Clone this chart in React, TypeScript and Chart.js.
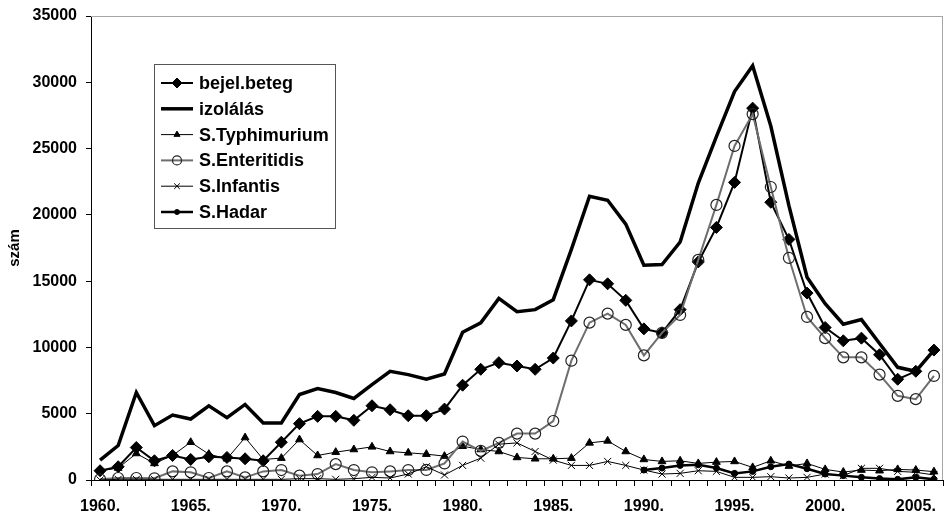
import { useEffect, useRef } from 'react';
import { Chart, registerables } from 'chart.js';
import { drawPoint } from 'chart.js/helpers';

Chart.register(...registerables);

const years = [
  1960, 1961, 1962, 1963, 1964, 1965, 1966, 1967, 1968, 1969,
  1970, 1971, 1972, 1973, 1974, 1975, 1976, 1977, 1978, 1979,
  1980, 1981, 1982, 1983, 1984, 1985, 1986, 1987, 1988, 1989,
  1990, 1991, 1992, 1993, 1994, 1995, 1996, 1997, 1998, 1999,
  2000, 2001, 2002, 2003, 2004, 2005, 2006,
];

const bejelBeteg = [
  700, 1000, 2450, 1450, 1850, 1550, 1750, 1700, 1600, 1450,
  2850, 4250, 4800, 4800, 4500, 5600, 5300, 4850, 4850, 5350,
  7150, 8350, 8850, 8600, 8350, 9200, 12000, 15100, 14800, 13550,
  11400, 11100, 12850, 16450, 19050, 22450, 28050, 20950, 18150, 14100,
  11500, 10500, 10700, 9450, 7600, 8200, 9800,
];

const izolalas = [
  1500, 2600, 6600, 4100, 4900, 4600, 5600, 4700, 5700, 4300,
  4300, 6450, 6900, 6600, 6150, 7200, 8200, 7950, 7600, 8000,
  11150, 11850, 13700, 12700, 12850, 13600, 17400, 21400, 21100, 19300,
  16200, 16250, 17950, 22400, 25900, 29300, 31250, 26700, 20700, 15300,
  13300, 11750, 12100, 10300, 8500, 8200, 9800,
];

const typhimurium = [
  700, 900, 2000, 1250, 1850, 2850, 1950, 1600, 3200, 1550,
  1650, 3050, 1850, 2100, 2300, 2500, 2150, 2050, 1950, 1800,
  2550, 2300, 2150, 1700, 1600, 1600, 1650, 2800, 2950, 2150,
  1550, 1400, 1450, 1250, 1350, 1400, 950, 1450, 1050, 1250,
  800, 600, 750, 700, 800, 750, 630,
];

const enteritidis = [
  50, 150, 150, 130, 650, 580, 150, 650, 200, 650,
  750, 330, 450, 1200, 750, 580, 650, 750, 760, 1250,
  2900, 2200, 2800, 3500, 3500, 4450, 9000, 11870, 12550, 11700,
  9400, 11100, 12450, 16600, 20750, 25200, 27600, 22100, 16750, 12300,
  10700, 9250, 9250, 7950, 6350, 6100, 7850,
];

const infantis = [
  0, 50, 50, 50, 50, 50, 50, 50, 50, 50,
  50, 100, 100, 50, 100, 200, 150, 450, 1000, 380,
  1100, 1650, 2700, 2800, 2150, 1500, 1100, 1100, 1400, 1100,
  750, 450, 500, 700, 650, 200, 200, 250, 150, 200,
  450, 330, 880, 880, 650, 580, 380,
];

const hadar = [
  null, null, null, null, null, null, null, null, null, null,
  null, null, null, null, null, null, null, null, null, null,
  null, null, null, null, null, null, null, null, null, null,
  750, 900, 1100, 1150, 900, 500, 650, 1000, 1200, 850,
  450, 330, 200, 110, 50, 200, 50,
];

const yTicks = [0, 5000, 10000, 15000, 20000, 25000, 30000, 35000];

const FONT = "'Liberation Sans', Arial, Helvetica, sans-serif";

const legendRadius = [5, 0, 3.5, 4.5, 4, 2.5];

const chartDecor = {
  id: 'chartDecor',
  beforeDatasetsDraw(chart: any) {
    const { ctx, chartArea: a } = chart;
    ctx.save();
    ctx.strokeStyle = '#a6a6a6';
    ctx.lineWidth = 1;
    ctx.beginPath();
    ctx.moveTo(a.left, a.top + 0.5);
    ctx.lineTo(a.right, a.top + 0.5);
    ctx.moveTo(a.right - 0.5, a.top);
    ctx.lineTo(a.right - 0.5, a.bottom);
    ctx.stroke();
    ctx.restore();
  },
  afterDraw(chart: any) {
    const { ctx } = chart;
    const bx = 154, by = 64, bw = 181, bh = 164;
    ctx.save();
    ctx.fillStyle = '#ffffff';
    ctx.fillRect(bx, by, bw, bh);
    ctx.strokeStyle = '#555555';
    ctx.lineWidth = 1;
    ctx.strokeRect(bx + 0.5, by + 0.5, bw, bh);
    const rowH = 25.8;
    chart.data.datasets.forEach((ds: any, i: number) => {
      const cy = by + 19 + i * rowH;
      ctx.strokeStyle = ds.borderColor;
      ctx.lineWidth = ds.borderWidth;
      ctx.beginPath();
      ctx.moveTo(161, cy);
      ctx.lineTo(193, cy);
      ctx.stroke();
      if (ds.pointStyle && legendRadius[i] > 0) {
        ctx.fillStyle = ds.pointBackgroundColor;
        ctx.strokeStyle = ds.pointBorderColor;
        ctx.lineWidth = ds.pointBorderWidth;
        drawPoint(ctx, { pointStyle: ds.pointStyle, radius: legendRadius[i], borderWidth: ds.pointBorderWidth, rotation: 0 }, 177, cy);
      }
      ctx.fillStyle = '#000';
      ctx.font = `bold 18px ${FONT}`;
      ctx.textBaseline = 'middle';
      ctx.textAlign = 'left';
      ctx.fillText(ds.label, 199, cy + 1);
    });
    ctx.restore();
  },
};

export default function App() {
  const ref = useRef<HTMLCanvasElement | null>(null);

  useEffect(() => {
    if (!ref.current) return;
    Chart.defaults.font.family = FONT;
    const chart = new Chart(ref.current, {
      type: 'line',
      data: {
        labels: years.map(String),
        datasets: [
          {
            label: 'bejel.beteg',
            data: bejelBeteg,
            borderColor: '#000000',
            borderWidth: 2,
            pointStyle: 'rectRot',
            pointRadius: 6,
            pointBackgroundColor: '#000000',
            pointBorderColor: '#000000',
            pointBorderWidth: 1,
            order: 6,
          },
          {
            label: 'izolálás',
            data: izolalas,
            borderColor: '#000000',
            borderWidth: 3.5,
            pointRadius: 0,
            pointStyle: false as any,
            order: 5,
          },
          {
            label: 'S.Typhimurium',
            data: typhimurium,
            borderColor: '#000000',
            borderWidth: 1,
            pointStyle: 'triangle',
            pointRadius: 4.5,
            pointBackgroundColor: '#000000',
            pointBorderColor: '#000000',
            pointBorderWidth: 1,
            order: 4,
          },
          {
            label: 'S.Enteritidis',
            data: enteritidis,
            borderColor: '#6e6e6e',
            borderWidth: 2,
            pointStyle: 'circle',
            pointRadius: 5.5,
            pointBackgroundColor: 'rgba(0,0,0,0)',
            pointBorderColor: '#222222',
            pointBorderWidth: 1.2,
            order: 3,
          },
          {
            label: 'S.Infantis',
            data: infantis,
            borderColor: '#000000',
            borderWidth: 1,
            pointStyle: 'crossRot',
            pointRadius: 5,
            pointBackgroundColor: '#000000',
            pointBorderColor: '#000000',
            pointBorderWidth: 1,
            order: 2,
          },
          {
            label: 'S.Hadar',
            data: hadar,
            borderColor: '#000000',
            borderWidth: 2.5,
            pointStyle: 'circle',
            pointRadius: 3,
            pointBackgroundColor: '#000000',
            pointBorderColor: '#000000',
            pointBorderWidth: 1,
            order: 1,
          },
        ],
      },
      options: {
        responsive: false,
        animation: false,
        events: [],
        layout: { padding: { top: 16, right: 1, left: 0, bottom: 0 } },
        plugins: {
          legend: { display: false },
          tooltip: { enabled: false },
        },
        elements: { line: { tension: 0 } },
        scales: {
          x: {
            type: 'category',
            offset: true,
            grid: {
              display: true,
              offset: true,
              drawOnChartArea: false,
              drawTicks: true,
              tickLength: 6,
              color: '#000000',
            },
            border: { display: true, color: '#000000', width: 1 },
            ticks: {
              autoSkip: false,
              maxRotation: 0,
              minRotation: 0,
              padding: 11,
              color: '#000000',
              font: { size: 16, weight: 'bold' },
              callback: (_v: any, i: number) => (years[i] % 5 === 0 ? `${years[i]}.` : ''),
            },
            afterFit: (s: any) => { s.height = 35; s.paddingLeft = 0; s.paddingRight = 0; },
          },
          y: {
            min: 0,
            max: 35000,
            afterBuildTicks: (s: any) => { s.ticks = yTicks.map((v) => ({ value: v })); },
            grid: {
              display: true,
              drawOnChartArea: false,
              drawTicks: true,
              tickLength: 5,
              color: '#000000',
            },
            border: { display: true, color: '#000000', width: 1 },
            ticks: {
              padding: 9,
              color: '#000000',
              font: { size: 16, weight: 'bold' },
              callback: (v: any) => String(v),
            },
            title: {
              display: true,
              text: 'szám',
              color: '#000000',
              font: { size: 15, weight: 'bold' },
              padding: { top: 6, bottom: 0 },
            },
            afterFit: (s: any) => { s.width = 91; s.paddingTop = 0; s.paddingBottom = 0; },
          },
        },
      },
      plugins: [chartDecor],
    });
    return () => chart.destroy();
  }, []);

  return (
    <div style={{ position: 'fixed', left: 0, top: 0, width: 950, height: 515, background: '#fff' }}>
      <canvas ref={ref} width={950} height={515} style={{ display: 'block' }} />
    </div>
  );
}
